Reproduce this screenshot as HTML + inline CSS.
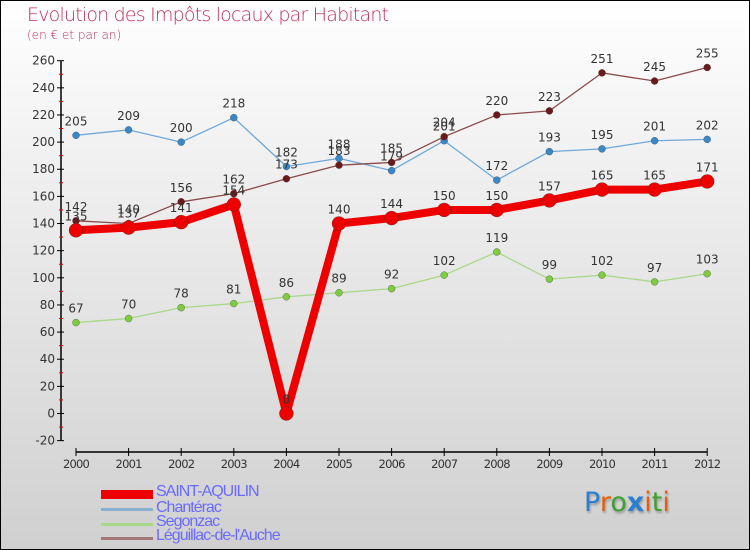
<!DOCTYPE html>
<html><head><meta charset="utf-8"><style>
body{margin:0}
#c{position:relative;width:748px;height:548px;border:1px solid #000;background:linear-gradient(#fff,#f0f0f0 30%,#d0d0d0);font-family:"DejaVu Sans","Liberation Sans",sans-serif;overflow:hidden}
.t{position:absolute;color:#c0305a;font-weight:200}
.leg{position:absolute;left:155px;color:#6a6aff;font-size:16px;letter-spacing:-1px;font-family:"Liberation Sans",sans-serif}
.sw{position:absolute;left:100px;width:52px}
</style></head><body>
<div id="c">
<div class="t" style="left:26px;top:3px;font-size:19px;letter-spacing:-0.8px">Evolution des Impôts locaux par Habitant</div>
<div class="t" style="left:26px;top:27px;font-size:12px">(en € et par an)</div>
<svg id="s" width="748" height="548" style="position:absolute;left:0;top:0"></svg>
<div class="sw" style="top:489px;height:9px;background:#e00"></div>
<div class="leg" style="top:482px">SAINT-AQUILIN</div>
<div class="sw" style="top:507px;height:3px;background:#8ab0d0"></div>
<div class="leg" style="top:498px">Chantérac</div>
<div class="sw" style="top:522px;height:3px;background:#a8d888"></div>
<div class="leg" style="top:512px">Segonzac</div>
<div class="sw" style="top:536px;height:3px;background:#a07878"></div>
<div class="leg" style="top:526px">Léguillac-de-l'Auche</div>
<div style="position:absolute;left:583px;top:486px;font-size:27px;font-family:'DejaVu Sans',sans-serif;text-shadow:1px 2px 2px #999"><span style="color:#2a7fd0">P</span><span style="color:#e06010">r</span><span style="color:#40a030">o</span><span style="color:#2a7fd0;font-weight:bold">x</span><span style="color:#e06010">i</span><span style="color:#40a030">t</span><span style="color:#e06010">i</span></div>
</div>
<script>
const years=["2000","2001","2002","2003","2004","2005","2006","2007","2008","2009","2010","2011","2012"];
const yTicks=[-20,0,20,40,60,80,100,120,140,160,180,200,220,240,260];
const saint=[135,137,141,154,0,140,144,150,150,157,165,165,171];
const chanterac=[205,209,200,218,182,188,179,201,172,193,195,201,202];
const segonzac=[67,70,78,81,86,89,92,102,119,99,102,97,103];
const leguillac=[142,140,156,162,173,183,185,204,220,223,251,245,255];
const NS="http://www.w3.org/2000/svg",s=document.getElementById('s');
const X=i=>75+i*52.6, Y=v=>412.5-v*1.357;
function el(t,a,p){const e=document.createElementNS(NS,t);for(const k in a)e.setAttribute(k,a[k]);(p||s).appendChild(e);return e;}
let ax=el('line',{x1:60,y1:Y(-20),x2:60,y2:Y(260),stroke:'#000','stroke-width':1.5});


yTicks.forEach(v=>{
 el('line',{x1:56,y1:Y(v),x2:63,y2:Y(v),stroke:'#000'});
 if(v<260)el('line',{x1:58,y1:Y(v+10),x2:62,y2:Y(v+10),stroke:'#e00'});
 const t=el('text',{x:54,y:Y(v)+4,'text-anchor':'end','font-size':12,fill:'#333','font-family':'DejaVu Sans, sans-serif'});
 t.textContent=v;
 
 
});
let xa=el('line',{x1:X(0),y1:451,x2:X(12),y2:451,stroke:'#000','stroke-width':1.5});


years.forEach((y,i)=>{
 el('line',{x1:X(i),y1:447,x2:X(i),y2:455,stroke:'#000'});
 const t=el('text',{x:X(i),y:467,'text-anchor':'middle','font-size':11.5,fill:'#333','letter-spacing':'-0.8','font-family':'DejaVu Sans, sans-serif'});
 t.textContent=y;
 
 
});
function series(d,name,col,dot,w,r){
 const g=el('g',{});
 
 
 el('polyline',{points:d.map((v,i)=>X(i)+','+Y(v)).join(' '),fill:'none',stroke:col,'stroke-width':w,'stroke-linejoin':'round'},g);
 d.forEach((v,i)=>{
  const c=el('circle',{cx:X(i),cy:Y(v),r:r,fill:dot,stroke:'#333','stroke-width':0.3},g);
  
  
  const t=el('text',{x:X(i),y:Y(v)-10,'text-anchor':'middle','font-size':12,fill:'#333','font-family':'DejaVu Sans, sans-serif'},g);
  t.textContent=v;
  
  
 });
}
series(segonzac,'segonzac','#a8d888','#80cc40',1.3,3.5);
series(chanterac,'chanterac','#70a8d8','#3a88c8',1.3,3.5);
series(leguillac,'leguillac','#8a4a4a','#6a1a1a',1.3,3.5);
series(saint,'saint-aquilin','#ee0000','#ee0000',8,7);
</script>
</body></html>
